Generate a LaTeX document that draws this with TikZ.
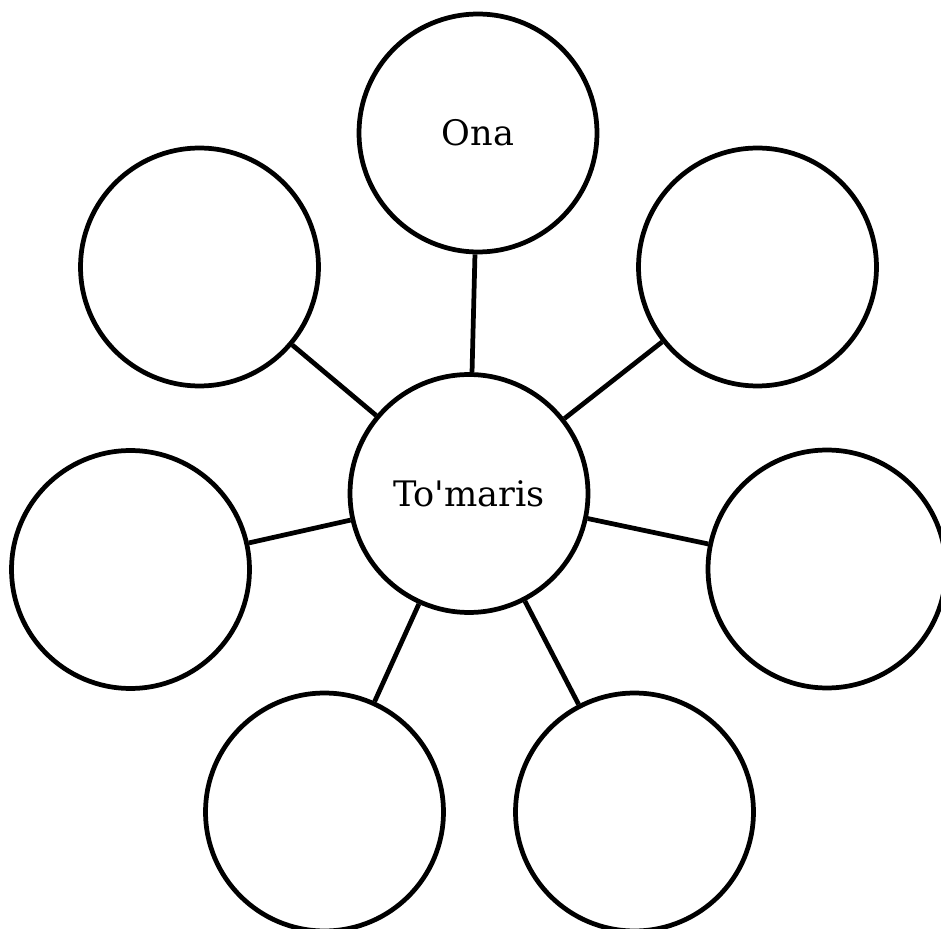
\documentclass[tikz,border=0pt]{standalone}
\usepackage{fontspec}
\setmainfont{DejaVu Serif}
\begin{document}
\begin{tikzpicture}[x=0.02cm,y=-0.02cm,line width=2.7pt,every node/.style={circle,draw,line width=2.7pt,minimum size=4.76cm,inner sep=0pt,font=\fontsize{20}{24}\selectfont}]
	\useasboundingbox (0,0) rectangle (941,929);
	\node (n0) at (469,493.5)  {To\textquotesingle maris};
	\node (n1) at (478,133)  {Ona};
	\node (n2) at (757.5,267)  {};
	\node (n3) at (827,569)  {};
	\node (n4) at (634.5,812)  {};
	\node (n5) at (324.5,812)  {};
	\node (n6) at (130.5,569.5)  {};
	\node (n7) at (199.5,267)  {};
	
	\draw (n0) -- (n1);
	\draw (n0) -- (n2);
	\draw (n0) -- (n3);
	\draw (n0) -- (n4);
	\draw (n0) -- (n5);
	\draw (n0) -- (n6);
	\draw (n0) -- (n7);
	\end{tikzpicture}
\end{document}
